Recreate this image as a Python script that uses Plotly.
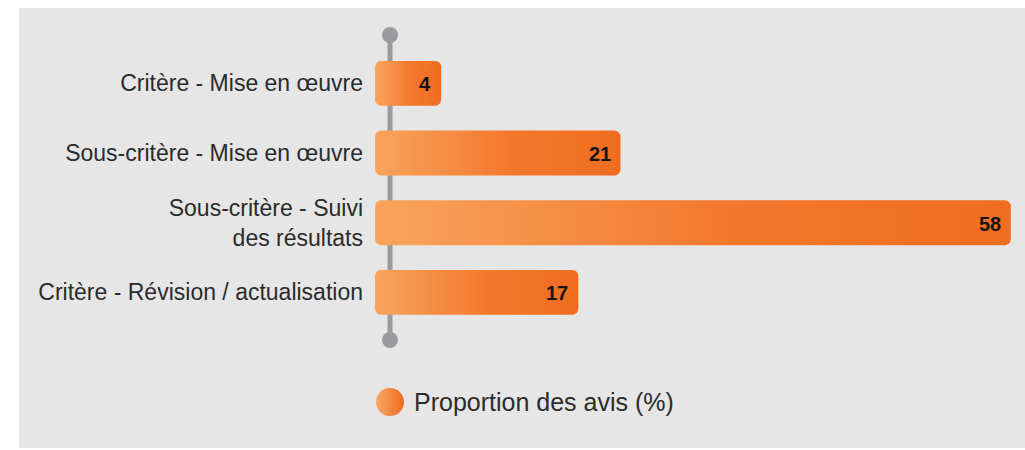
import numpy as np
import plotly.graph_objects as go

# ---------------- data ----------------
categories = [
    "Critère - Mise en œuvre",
    "Sous-critère - Mise en œuvre",
    "Sous-critère - Suivi<br>des résultats",
    "Critère - Révision / actualisation",
]
values = [4, 21, 58, 17]
value_labels = ["4", "21", "58", "17"]
series_name = "Proportion des avis (%)"

# ---------------- layout constants ----------------
W, H = 1025, 450
M_L, M_R, M_T, M_B = 368, 0, 13, 3
X_RANGE = [-2.938, 59.34]
Y_RANGE = [5.218, -1.009]          # reversed: first category on top
PLOT_W = W - M_L - M_R
PLOT_H = H - M_T - M_B
XPX = PLOT_W / (X_RANGE[1] - X_RANGE[0])
YPX = PLOT_H / (Y_RANGE[0] - Y_RANGE[1])

BAR_BASE = -2.27       # bars begin slightly left of the axis line
BAR_HALF = 0.322
AXIS_X = -0.85
AXIS_Y = [-0.693, 3.683]
LEGEND_Y = 4.573
RADIUS_PX = 6

BG = "#e6e6e6"
AXIS_COLOR = "#9b9b9f"
TEXT_COLOR = "#2b2b2b"
GRAD = [[0.0, "#f8a45e"], [0.55, "#f3782c"], [1.0, "#f06d20"]]
FONT = "Liberation Sans, Arial, Helvetica, sans-serif"


def rounded_bar(x0, x1, yc, half, rx, ry, n=10):
    y0, y1 = yc - half, yc + half
    corners = [
        (x1 - rx, y0 + ry, -90, 0),
        (x1 - rx, y1 - ry, 0, 90),
        (x0 + rx, y1 - ry, 90, 180),
        (x0 + rx, y0 + ry, 180, 270),
    ]
    xs, ys = [], []
    for cx, cy, a0, a1 in corners:
        t = np.radians(np.linspace(a0, a1, n))
        xs.extend(cx + rx * np.cos(t))
        ys.extend(cy + ry * np.sin(t))
    xs.append(xs[0])
    ys.append(ys[0])
    return xs, ys


fig = go.Figure()

# axis line with round end caps
fig.add_trace(go.Scatter(
    x=[AXIS_X, AXIS_X], y=AXIS_Y, mode="lines+markers",
    line=dict(color=AXIS_COLOR, width=5),
    marker=dict(color=AXIS_COLOR, size=16),
    hoverinfo="skip", showlegend=False,
))

rx = RADIUS_PX / XPX
ry = RADIUS_PX / YPX
for i, v in enumerate(values):
    xs, ys = rounded_bar(BAR_BASE, v, i, BAR_HALF, rx, ry)
    fig.add_trace(go.Scatter(
        x=xs, y=ys, mode="lines", fill="toself",
        line=dict(width=0, color="rgba(0,0,0,0)"),
        fillgradient=dict(type="horizontal", colorscale=GRAD),
        hoverinfo="skip", showlegend=False, name=series_name,
    ))
    fig.add_annotation(
        x=v, y=i, text=value_labels[i], showarrow=False,
        xanchor="right", yanchor="middle", xshift=-8, yshift=-1,
        font=dict(family=FONT, size=20, color="#151515", weight="bold"),
    )

# manual legend
fig.add_trace(go.Scatter(
    x=[AXIS_X], y=[LEGEND_Y], mode="markers",
    marker=dict(size=28, color="#f9a866",
                gradient=dict(type="horizontal", color="#ef6a1c")),
    hoverinfo="skip", showlegend=False, name=series_name,
))
fig.add_annotation(
    x=AXIS_X, y=LEGEND_Y, text=series_name, showarrow=False,
    xanchor="left", yanchor="middle", xshift=22,
    font=dict(family=FONT, size=25, color=TEXT_COLOR),
)

# grey panel
fig.add_shape(
    type="rect", xref="paper", yref="paper", layer="below",
    x0=(19 - M_L) / PLOT_W, x1=1.0,
    y0=(H - M_B - 448) / PLOT_H, y1=(H - M_B - 8) / PLOT_H,
    fillcolor=BG, line=dict(width=0),
)

fig.update_layout(
    width=W, height=H,
    margin=dict(l=M_L, r=M_R, t=M_T, b=M_B),
    paper_bgcolor="white", plot_bgcolor="rgba(0,0,0,0)",
    font=dict(family=FONT, color=TEXT_COLOR),
    xaxis=dict(range=X_RANGE, visible=False, fixedrange=True),
    yaxis=dict(
        range=Y_RANGE, tickmode="array",
        tickvals=list(range(len(categories))), ticktext=categories,
        showgrid=False, zeroline=False, showline=False, ticks="",
        ticklabelstandoff=4,
        tickfont=dict(family=FONT, size=23, color=TEXT_COLOR),
        fixedrange=True,
    ),
    showlegend=False,
)

fig.write_html("out.html")
